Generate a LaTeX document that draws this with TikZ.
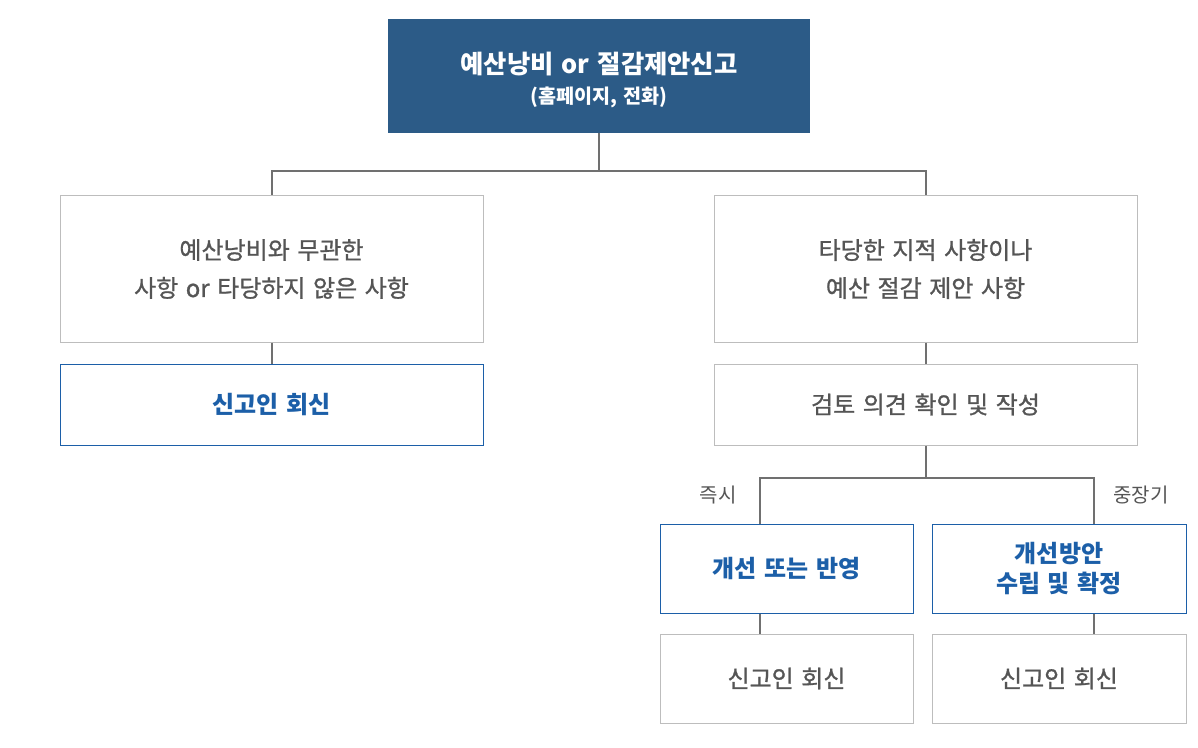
\documentclass[tikz,border=0pt]{standalone}
\usepackage{fontspec}
\setmainfont{Noto Sans CJK KR}[WordSpace=1.4]
\newfontfamily\krmed{Noto Sans CJK KR}[WordSpace=1.4,FakeBold=1]
\usetikzlibrary{calc}
\definecolor{navy}{HTML}{2C5B87}
\definecolor{kblue}{HTML}{1C5FA8}
\definecolor{bordergray}{HTML}{BDBDBD}
\definecolor{textgray}{HTML}{555555}
\definecolor{linegray}{HTML}{707070}
\tikzset{
  graybox/.style={draw=bordergray, line width=0.75pt, fill=white, align=center, text=textgray, font=\krmed\fontsize{18}{28.5}\selectfont, inner sep=0pt},
  bluebox/.style={draw=kblue, line width=0.75pt, fill=white, align=center, text=kblue, font=\fontsize{18}{22.5}\selectfont\bfseries, inner sep=0pt},
  topbox/.style={fill=navy, align=center, text=white, inner sep=0pt},
  conn/.style={draw=linegray, line width=1.5pt},
  lbl/.style={text=textgray, font=\fontsize{15}{18}\selectfont, inner sep=0pt},
}
\begin{document}
\begin{tikzpicture}[x=0.75pt,y=-0.75pt]
\useasboundingbox (0,0) rectangle (1198,748);
% nodes
\node[topbox, minimum width=316.5pt, minimum height=85.5pt] (top) at (599,76) {};
\node[text=white, font=\fontsize{19}{22}\selectfont\bfseries, inner sep=0pt] (t1) at (599,64) {예산낭비 or 절감제안신고};
\node[text=white, font=\fontsize{14.7}{17}\selectfont\bfseries, inner sep=0pt] (t2) at (599,97) {(홈페이지, 전화)};
\node[graybox, minimum width=317.25pt, minimum height=109.5pt] (l1) at (271.5,269) {예산낭비와 무관한\\사항 or 타당하지 않은 사항};
\node[bluebox, minimum width=317.25pt, minimum height=60.75pt] (l2) at (271.5,404.5) {신고인 회신};
\node[graybox, minimum width=317.25pt, minimum height=109.5pt] (r1) at (925.5,269) {타당한 지적 사항이나\\예산 절감 제안 사항};
\node[graybox, minimum width=317.25pt, minimum height=60.75pt] (r2) at (925.5,404.5) {검토 의견 확인 및 작성};
\node[bluebox, minimum width=189.75pt, minimum height=66.75pt] (r3a) at (786.5,568.5) {개선 또는 반영};
\node[bluebox, minimum width=190.5pt, minimum height=66.75pt] (r3b) at (1059,568.5) {개선방안\\수립 및 확정};
\node[graybox, minimum width=189.75pt, minimum height=66.75pt] (r4a) at (786.5,678.5) {신고인 회신};
\node[graybox, minimum width=190.5pt, minimum height=66.75pt] (r4b) at (1059,678.5) {신고인 회신};
\node[lbl] (la) at (718,495) {즉시};
\node[lbl] (lb) at (1141,495) {중장기};
% connectors
\coordinate (ca) at ([xshift=75pt]r3a.north west);
\coordinate (cb) at ([xshift=121.5pt]r3b.north west);
\draw[conn] (top.south) -- ++(0,38) -| (l1.north);
\draw[conn] (top.south) ++(0,38) -| (r1.north);
\draw[conn] (l1.south) -- (l2.north);
\draw[conn] (r1.south) -- (r2.north);
\draw[conn] (r2.south) -- ++(0,32) -| (ca);
\draw[conn] (r2.south) ++(0,32) -| (cb);
\draw[conn] (ca |- r3a.south) -- (ca |- r4a.north);
\draw[conn] (cb |- r3b.south) -- (cb |- r4b.north);
\end{tikzpicture}
\end{document}
